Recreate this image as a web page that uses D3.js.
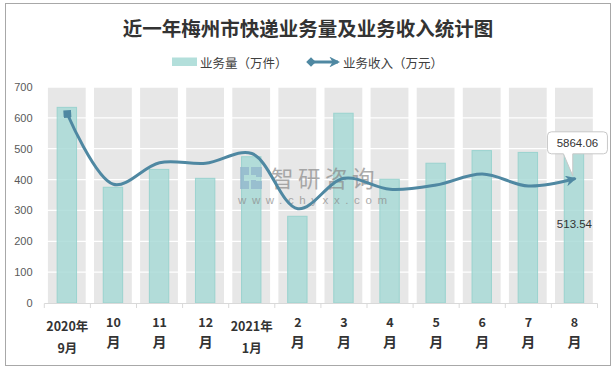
<!DOCTYPE html>
<html><head><meta charset="utf-8">
<script src="https://cdn.jsdelivr.net/npm/d3@7"></script>
<style>body{margin:0;background:#fff}svg{display:block}</style>
</head><body>
<script>
const categories = ["2020年9月","10月","11月","12月","2021年1月","2月","3月","4月","5月","6月","7月","8月"];
const tickLines = [["2020年","9月"],["10","月"],["11","月"],["12","月"],["2021年","1月"],["2","月"],["3","月"],["4","月"],["5","月"],["6","月"],["7","月"],["8","月"]];
const volume = [634,375,433,404,474,281,615,401,453,494,488,513.54];   // 业务量（万件）
const revenue = [8925,5605,6625,6597,7060,4453,5888,5369,5572,6091,5525,5864.06]; // 业务收入（万元）
const yTicks = [0,100,200,300,400,500,600,700];
const titleText = "近一年梅州市快递业务量及业务收入统计图";
const legendNames = ["业务量（万件）","业务收入（万元）"];

const W=616,H=370;
const svg=d3.select("body").append("svg").attr("width",W).attr("height",H);
const lineColor="#4f88a2";
const cjk="'Noto Sans CJK SC','Noto Sans',sans-serif";

svg.append("rect").attr("x",5.5).attr("y",3.5).attr("width",605).attr("height",362)
  .attr("fill","#fff").attr("stroke","#a8a8a8");

svg.append("text").attr("x",308).attr("y",27).attr("text-anchor","middle").attr("dominant-baseline","central")
  .attr("font-family",cjk).attr("font-weight","bold").attr("font-size",19.5).attr("fill","#333")
  .text(titleText);

const x=d3.scaleBand().domain(categories).range([44.3,597.5]).padding(0);
const y=d3.scaleLinear().domain([0,700]).range([303,87]);
const y2=d3.scaleLinear().domain([0,10200]).range([303,87]);
const bw=x.bandwidth();

// gray background bands
svg.append("g").selectAll("rect").data(categories).join("rect")
  .attr("x",d=>x(d)+3.6).attr("width",bw-8.3).attr("y",y(700)).attr("height",y(0)-y(700))
  .attr("fill","#e7e7e7");
// gridlines
svg.append("g").selectAll("line").data(yTicks.filter(t=>t>0)).join("line")
  .attr("x1",44.3).attr("x2",597.5).attr("y1",d=>y(d)).attr("y2",d=>y(d))
  .attr("stroke","#fff").attr("stroke-width",1.3);

// bars
svg.append("g").selectAll("rect").data(volume).join("rect")
  .attr("x",(d,i)=>x(categories[i])+bw/2-10.2).attr("width",19.4)
  .attr("y",d=>y(d)).attr("height",d=>y(0)-y(d))
  .attr("fill","rgba(166,217,213,0.82)").attr("stroke","rgba(150,210,205,0.9)").attr("stroke-width",1);

// watermark
const wm=svg.append("g").attr("opacity",0.7);
wm.append("path").attr("d","M240,167h9v8h-5v6h5v8h-9zM251,167h11v10h-6v4h6v8h-11v-9h5v-5h-5z")
  .attr("fill","#8fb3cc");
wm.append("text").attr("x",271).attr("y",176.5).attr("dominant-baseline","central")
  .attr("font-family",cjk).attr("font-size",22.5).attr("letter-spacing",4.5).attr("fill","#8a8a8a").text("智研咨询");
wm.append("text").attr("x",238).attr("y",200).attr("dominant-baseline","central")
  .attr("font-family","'Liberation Sans',Arial,sans-serif").attr("font-size",11.5).attr("letter-spacing",5.6)
  .attr("fill","#8a8a8a").text("www.chyxx.com");

// y axis labels
svg.append("g").selectAll("text").data(yTicks).join("text")
  .attr("x",32.5).attr("y",d=>y(d)).attr("text-anchor","end").attr("dominant-baseline","central")
  .attr("font-family","'Liberation Sans',Arial,sans-serif").attr("font-size",11).attr("fill","#595959")
  .text(d=>d);

// x axis
const xa=svg.append("g");
xa.append("line").attr("x1",44.3).attr("x2",597.5).attr("y1",303.5).attr("y2",303.5).attr("stroke","#d9d9d9");
xa.selectAll("line.t").data(categories.concat(["end"])).join("line").attr("class","t")
  .attr("x1",(d,i)=>44.3+i*bw).attr("x2",(d,i)=>44.3+i*bw).attr("y1",303.5).attr("y2",308)
  .attr("stroke","#d9d9d9");
categories.forEach((c,i)=>{
  const cx=x(c)+bw/2; const L=tickLines[i]; const yr=L[0].length>2;
  const g=xa.append("g").attr("font-family",cjk).attr("font-weight","bold").attr("font-size",12.5).attr("fill","#333")
    .attr("text-anchor","middle");
  g.append("text").attr("x",cx).attr("y",yr?325:321).attr("dominant-baseline","central").text(L[0]);
  g.append("text").attr("x",cx).attr("y",yr?347:340.5).attr("dominant-baseline","central")
    .attr("font-size",yr?12.5:14).text(L[1]);
});

// markers
const defs=svg.append("defs");
defs.append("marker").attr("id","arr").attr("viewBox","0 0 10 10").attr("refX",8).attr("refY",5)
  .attr("markerWidth",3.6).attr("markerHeight",3.6).attr("orient","auto")
  .append("path").attr("d","M0,0L10,5L0,10L3,5z").attr("fill",lineColor);
defs.append("marker").attr("id","dia").attr("viewBox","0 0 10 10").attr("refX",5).attr("refY",5)
  .attr("markerWidth",3.2).attr("markerHeight",3.2).attr("orient","auto")
  .append("path").attr("d","M5,0L10,5L5,10L0,5z").attr("fill",lineColor);
defs.append("marker").attr("id","sq").attr("viewBox","0 0 10 10").attr("refX",5).attr("refY",5)
  .attr("markerWidth",3.2).attr("markerHeight",3.2).attr("orient","auto")
  .append("rect").attr("x",1).attr("y",1).attr("width",8).attr("height",8).attr("fill",lineColor)
  .attr("transform","rotate(20 5 5)");

// line
const line=d3.line().x((d,i)=>x(categories[i])+bw/2).y(d=>y2(d)).curve(d3.curveCatmullRom.alpha(0.5));
svg.append("path").datum(revenue).attr("d",line).attr("fill","none").attr("stroke",lineColor)
  .attr("stroke-width",3).attr("stroke-linecap","round")
  .attr("marker-start","url(#sq)").attr("marker-end","url(#arr)");

// data labels
const li=volume.length-1;
const bx=x(categories[li])+bw/2;
svg.append("text").attr("x",bx).attr("y",y(volume[li]/2)).attr("text-anchor","middle").attr("dominant-baseline","central")
  .attr("font-family","'Liberation Sans',Arial,sans-serif").attr("font-size",11.5).attr("fill","#333").text(volume[li]);
const py=y2(revenue[li]);
const L0=bx-27,R0=bx+33,T0=py-47,B0=py-25,r=4;
svg.append("path").attr("d",
  `M${L0+r},${T0}H${R0-r}Q${R0},${T0} ${R0},${T0+r}V${B0-r}Q${R0},${B0} ${R0-r},${B0}H${bx-1.7}L${bx-1.7},${py-3}L${bx-11},${B0}H${L0+r}Q${L0},${B0} ${L0},${B0-r}V${T0+r}Q${L0},${T0} ${L0+r},${T0}Z`)
  .attr("fill","#fff").attr("stroke","#c8c8c8").attr("stroke-width",1);
svg.append("text").attr("x",(L0+R0)/2).attr("y",(T0+B0)/2).attr("text-anchor","middle").attr("dominant-baseline","central")
  .attr("font-family","'Liberation Sans',Arial,sans-serif").attr("font-size",11.5).attr("fill","#333").text(revenue[li].toFixed(2));

// legend
const lg=svg.append("g").attr("font-family",cjk).attr("font-size",12.5).attr("fill","#404040");
lg.append("rect").attr("x",172).attr("y",57.5).attr("width",25).attr("height",8.5).attr("fill","rgba(166,217,213,0.85)");
lg.append("text").attr("x",200).attr("y",62).attr("dominant-baseline","central").text(legendNames[0]);
lg.append("line").attr("x1",311).attr("x2",338).attr("y1",62).attr("y2",62).attr("stroke",lineColor).attr("stroke-width",3)
  .attr("marker-start","url(#dia)").attr("marker-end","url(#arr)");
lg.append("text").attr("x",343).attr("y",62).attr("dominant-baseline","central").text(legendNames[1]);
</script>
</body></html>
